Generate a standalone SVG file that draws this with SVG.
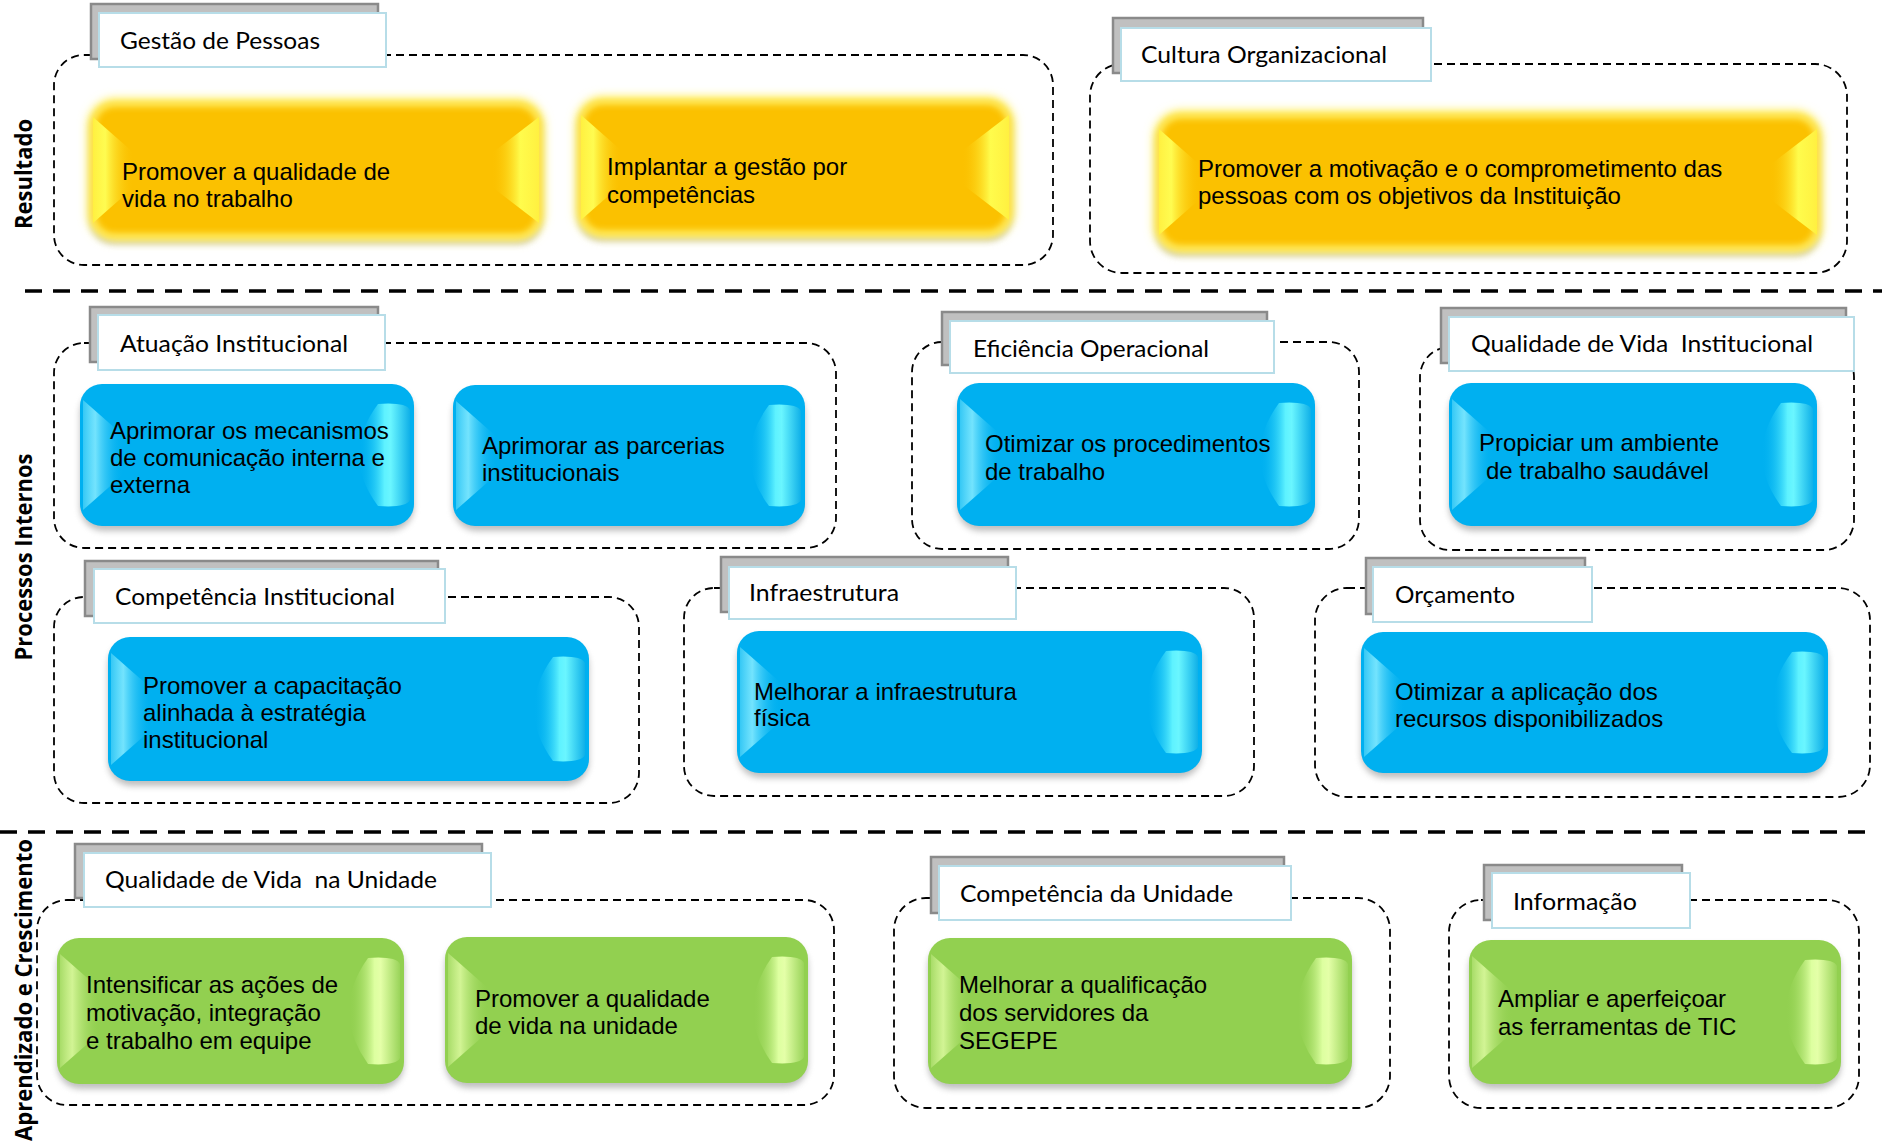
<svg xmlns="http://www.w3.org/2000/svg" width="1882" height="1143" viewBox="0 0 1882 1143">
<defs>
<style>
.dash{fill:none;stroke:#000;stroke-width:1.8;stroke-dasharray:8 5}
.sep{stroke:#000;stroke-width:3.6;stroke-dasharray:17 11}
.tabsh{fill:#C0C0C0;stroke:#8A8A8A;stroke-width:2.5}
.tab{fill:#fff;stroke:#B7DDE8;stroke-width:2}
.lbl{font-family:Lato,"Liberation Sans",sans-serif;font-size:24px;fill:#000;white-space:pre}
.txt{font-family:"Liberation Sans",Arial,sans-serif;font-size:24px;fill:#000}
.side{font-family:"Open Sans","DejaVu Sans",sans-serif;font-weight:bold;font-size:22.5px;fill:#000}
.shd{fill:#7f7f7f;opacity:.5;filter:url(#blur3)}
.yb{fill:#FBC100;filter:url(#blur2)}
.yg{fill:#FFF27A;filter:url(#blur5)}
.ye{fill:none;stroke:#FFE650;stroke-width:6;filter:url(#blur3)}
.bb{fill:#00B0F0}
.gb{fill:#92D050}
</style>
<filter id="blur2" x="-10%" y="-20%" width="120%" height="140%"><feGaussianBlur stdDeviation="2"/></filter>
<filter id="blur3" x="-10%" y="-20%" width="120%" height="140%"><feGaussianBlur stdDeviation="3"/></filter>
<filter id="blur5" x="-10%" y="-20%" width="120%" height="140%"><feGaussianBlur stdDeviation="5"/></filter>
<linearGradient id="LBb" x1="0" y1="0" x2="1" y2="0"><stop offset="0" stop-color="#35C8F5"/><stop offset="0.3" stop-color="#80E9FF" stop-opacity="0.9"/><stop offset="1" stop-color="#00B0F0" stop-opacity="0"/></linearGradient>
<linearGradient id="RBb" x1="0" y1="0" x2="1" y2="0"><stop offset="0" stop-color="#00B0F0" stop-opacity="0"/><stop offset="0.5" stop-color="#5EF2FF"/><stop offset="0.62" stop-color="#6AF6FF"/><stop offset="1" stop-color="#10B0E8"/></linearGradient>
<linearGradient id="LBg" x1="0" y1="0" x2="1" y2="0"><stop offset="0" stop-color="#A8DC68"/><stop offset="0.3" stop-color="#D9F89C" stop-opacity="0.9"/><stop offset="1" stop-color="#92D050" stop-opacity="0"/></linearGradient>
<linearGradient id="RBg" x1="0" y1="0" x2="1" y2="0"><stop offset="0" stop-color="#92D050" stop-opacity="0"/><stop offset="0.5" stop-color="#DDFFA0"/><stop offset="0.62" stop-color="#E4FFA8"/><stop offset="1" stop-color="#9AD45A"/></linearGradient>
<linearGradient id="LBy" x1="0" y1="0" x2="1" y2="0"><stop offset="0" stop-color="#FFF040"/><stop offset="0.3" stop-color="#FFFF55" stop-opacity="0.95"/><stop offset="1" stop-color="#FBC100" stop-opacity="0"/></linearGradient>
<linearGradient id="RBy" x1="0" y1="0" x2="1" y2="0"><stop offset="0" stop-color="#FBC100" stop-opacity="0"/><stop offset="0.6" stop-color="#FFFF50" stop-opacity="0.95"/><stop offset="1" stop-color="#FFF040"/></linearGradient>
</defs>
<rect x="0" y="0" width="1882" height="1143" fill="#fff"/>

<g id="separators">
<line class="sep" x1="25" y1="291" x2="1882" y2="291"/>
<line class="sep" x1="0" y1="832" x2="1866" y2="832"/>
</g>
<g id="connectors"/>

<g id="perspectives">
<text class="side" transform="translate(32,174) rotate(-90)" text-anchor="middle" textLength="110" lengthAdjust="spacingAndGlyphs">Resultado</text>
<text class="side" transform="translate(32,557) rotate(-90)" text-anchor="middle" textLength="207" lengthAdjust="spacingAndGlyphs">Processos Internos</text>
<text class="side" transform="translate(32,990) rotate(-90)" text-anchor="middle" textLength="302" lengthAdjust="spacingAndGlyphs">Aprendizado e Crescimento</text>
</g>

<!-- Gestão de Pessoas -->
<g id="grp-gestao-pessoas">
<rect class="dash" x="54" y="55" width="999" height="210" rx="30"/>
<rect class="tabsh" x="91" y="4" width="287" height="55"/>
<rect class="tab" x="99" y="13" width="287" height="54"/>
<text class="lbl" x="120" y="49" textLength="200" lengthAdjust="spacingAndGlyphs">Gestão de Pessoas</text>
<g id="obj-qualidade-vida-trabalho">
<rect class="shd" x="90" y="106" width="452" height="138" rx="24"/>
<rect class="yg" x="87" y="98" width="458" height="144" rx="28"/>
<rect class="yb" x="93" y="104" width="446" height="132" rx="22"/>
<rect class="ye" x="93" y="104" width="446" height="132" rx="22"/>
<path d="M93 117 L134 153 L134 187 L93 223 Z" fill="url(#LBy)"/>
<path d="M539 117 L492 153 L492 187 L539 223 Z" fill="url(#RBy)"/>
<text class="txt" x="122" y="180">Promover a qualidade de</text>
<text class="txt" x="122" y="207">vida no trabalho</text>
</g>
<g id="obj-gestao-competencias">
<rect class="shd" x="578" y="104" width="434" height="137" rx="24"/>
<rect class="yg" x="575" y="96" width="440" height="143" rx="28"/>
<rect class="yb" x="581" y="102" width="428" height="131" rx="22"/>
<rect class="ye" x="581" y="102" width="428" height="131" rx="22"/>
<path d="M581 115 L622 151 L622 184 L581 220 Z" fill="url(#LBy)"/>
<path d="M1009 115 L962 151 L962 184 L1009 220 Z" fill="url(#RBy)"/>
<text class="txt" x="607" y="175">Implantar a gestão por</text>
<text class="txt" x="607" y="203">competências</text>
</g>
</g>

<!-- Cultura Organizacional -->
<g id="grp-cultura">
<rect class="dash" x="1090" y="64" width="757" height="209" rx="32"/>
<rect class="tabsh" x="1113" y="18" width="310" height="55"/>
<rect class="tab" x="1121" y="28" width="310" height="53"/>
<text class="lbl" x="1141" y="63" textLength="246" lengthAdjust="spacingAndGlyphs">Cultura Organizacional</text>
<g id="obj-motivacao">
<rect class="shd" x="1156" y="118" width="664" height="138" rx="24"/>
<rect class="yg" x="1153" y="110" width="670" height="144" rx="28"/>
<rect class="yb" x="1159" y="116" width="658" height="132" rx="22"/>
<rect class="ye" x="1159" y="116" width="658" height="132" rx="22"/>
<path d="M1159 129 L1200 165 L1200 199 L1159 235 Z" fill="url(#LBy)"/>
<path d="M1817 129 L1770 165 L1770 199 L1817 235 Z" fill="url(#RBy)"/>
<text class="txt" x="1198" y="177">Promover a motivação e o comprometimento das</text>
<text class="txt" x="1198" y="204">pessoas com os objetivos da Instituição</text>
</g>
</g>

<!-- Atuação Institucional -->
<g id="grp-atuacao">
<rect class="dash" x="54" y="343" width="782" height="205" rx="30"/>
<rect class="tabsh" x="90" y="307" width="288" height="55"/>
<rect class="tab" x="98" y="315" width="287" height="55"/>
<text class="lbl" x="120" y="352" textLength="228" lengthAdjust="spacingAndGlyphs">Atuação Institucional</text>
<g id="obj-comunicacao">
<rect class="shd" x="80" y="389" width="334" height="142" rx="24"/>
<rect class="bb" x="80" y="384" width="334" height="142" rx="22"/>
<path d="M83 400 L124 436 L124 474 L83 510 Z" fill="url(#LBb)"/>
<path d="M410 410 Q406 402 378 404 Q340 455 378 506 Q406 508 410 500 Z" fill="url(#RBb)"/>
<text class="txt" x="110" y="439">Aprimorar os mecanismos</text>
<text class="txt" x="110" y="466">de comunicação interna e</text>
<text class="txt" x="110" y="493">externa</text>
</g>
<g id="obj-parcerias">
<rect class="shd" x="453" y="390" width="352" height="141" rx="24"/>
<rect class="bb" x="453" y="385" width="352" height="141" rx="22"/>
<path d="M456 401 L497 437 L497 474 L456 510 Z" fill="url(#LBb)"/>
<path d="M801 411 Q797 403 769 405 Q731 455.5 769 506 Q797 508 801 500 Z" fill="url(#RBb)"/>
<text class="txt" x="482" y="454">Aprimorar as parcerias</text>
<text class="txt" x="482" y="481">institucionais</text>
</g>
</g>

<!-- Eficiência Operacional -->
<g id="grp-eficiencia">
<rect class="dash" x="912" y="342" width="447" height="207" rx="30"/>
<rect class="tabsh" x="942" y="312" width="325" height="53"/>
<rect class="tab" x="950" y="321" width="324" height="52"/>
<text class="lbl" x="973" y="357" textLength="236" lengthAdjust="spacingAndGlyphs">Eficiência Operacional</text>
<g id="obj-procedimentos">
<rect class="shd" x="957" y="388" width="358" height="143" rx="24"/>
<rect class="bb" x="957" y="383" width="358" height="143" rx="22"/>
<path d="M960 399 L1001 435 L1001 474 L960 510 Z" fill="url(#LBb)"/>
<path d="M1311 409 Q1307 401 1279 403 Q1241 454.5 1279 506 Q1307 508 1311 500 Z" fill="url(#RBb)"/>
<text class="txt" x="985" y="452">Otimizar os procedimentos</text>
<text class="txt" x="985" y="480">de trabalho</text>
</g>
</g>

<!-- Qualidade de Vida Institucional -->
<g id="grp-qv-institucional">
<rect class="dash" x="1420" y="347" width="434" height="203" rx="30"/>
<rect class="tabsh" x="1441" y="308" width="405" height="55"/>
<rect class="tab" x="1449" y="317" width="405" height="54"/>
<text class="lbl" x="1471" y="352" textLength="342" lengthAdjust="spacingAndGlyphs">Qualidade de Vida  Institucional</text>
<g id="obj-ambiente">
<rect class="shd" x="1449" y="388" width="368" height="143" rx="24"/>
<rect class="bb" x="1449" y="383" width="368" height="143" rx="22"/>
<path d="M1452 399 L1493 435 L1493 474 L1452 510 Z" fill="url(#LBb)"/>
<path d="M1813 409 Q1809 401 1781 403 Q1743 454.5 1781 506 Q1809 508 1813 500 Z" fill="url(#RBb)"/>
<text class="txt" x="1479" y="451">Propiciar um ambiente</text>
<text class="txt" x="1486" y="479">de trabalho saudável</text>
</g>
</g>

<!-- Competência Institucional -->
<g id="grp-competencia-inst">
<rect class="dash" x="54" y="597" width="585" height="206" rx="30"/>
<rect class="tabsh" x="85" y="561" width="353" height="55"/>
<rect class="tab" x="94" y="569" width="351" height="54"/>
<text class="lbl" x="115" y="605" textLength="280" lengthAdjust="spacingAndGlyphs">Competência Institucional</text>
<g id="obj-capacitacao">
<rect class="shd" x="108" y="642" width="481" height="144" rx="24"/>
<rect class="bb" x="108" y="637" width="481" height="144" rx="22"/>
<path d="M111 653 L152 689 L152 729 L111 765 Z" fill="url(#LBb)"/>
<path d="M585 663 Q581 655 553 657 Q515 709 553 761 Q581 763 585 755 Z" fill="url(#RBb)"/>
<text class="txt" x="143" y="694">Promover a capacitação</text>
<text class="txt" x="143" y="721">alinhada à estratégia</text>
<text class="txt" x="143" y="748">institucional</text>
</g>
</g>

<!-- Infraestrutura -->
<g id="grp-infraestrutura">
<rect class="dash" x="684" y="588" width="570" height="208" rx="30"/>
<rect class="tabsh" x="721" y="557" width="287" height="55"/>
<rect class="tab" x="729" y="567" width="287" height="52"/>
<text class="lbl" x="749" y="601" textLength="150" lengthAdjust="spacingAndGlyphs">Infraestrutura</text>
<g id="obj-infra-fisica">
<rect class="shd" x="737" y="636" width="465" height="142" rx="24"/>
<rect class="bb" x="737" y="631" width="465" height="142" rx="22"/>
<path d="M740 647 L781 683 L781 721 L740 757 Z" fill="url(#LBb)"/>
<path d="M1198 657 Q1194 649 1166 651 Q1128 702 1166 753 Q1194 755 1198 747 Z" fill="url(#RBb)"/>
<text class="txt" x="754" y="700">Melhorar a infraestrutura</text>
<text class="txt" x="754" y="726">física</text>
</g>
</g>

<!-- Orçamento -->
<g id="grp-orcamento">
<rect class="dash" x="1315" y="588" width="555" height="209" rx="32"/>
<rect class="tabsh" x="1366" y="558" width="219" height="56"/>
<rect class="tab" x="1373" y="567" width="219" height="55"/>
<text class="lbl" x="1395" y="603" textLength="120" lengthAdjust="spacingAndGlyphs">Orçamento</text>
<g id="obj-recursos">
<rect class="shd" x="1361" y="637" width="467" height="141" rx="24"/>
<rect class="bb" x="1361" y="632" width="467" height="141" rx="22"/>
<path d="M1364 648 L1405 684 L1405 721 L1364 757 Z" fill="url(#LBb)"/>
<path d="M1824 658 Q1820 650 1792 652 Q1754 702.5 1792 753 Q1820 755 1824 747 Z" fill="url(#RBb)"/>
<text class="txt" x="1395" y="700">Otimizar a aplicação dos</text>
<text class="txt" x="1395" y="727">recursos disponibilizados</text>
</g>
</g>

<!-- Qualidade de Vida na Unidade -->
<g id="grp-qv-unidade">
<rect class="dash" x="37" y="900" width="797" height="205" rx="30"/>
<rect class="tabsh" x="75" y="844" width="407" height="54"/>
<rect class="tab" x="84" y="853" width="407" height="54"/>
<text class="lbl" x="105" y="888" textLength="332" lengthAdjust="spacingAndGlyphs">Qualidade de Vida  na Unidade</text>
<g id="obj-motivacao-equipe">
<rect class="shd" x="57" y="943" width="347" height="146" rx="24"/>
<rect class="gb" x="57" y="938" width="347" height="146" rx="22"/>
<path d="M60 954 L101 990 L101 1032 L60 1068 Z" fill="url(#LBg)"/>
<path d="M400 964 Q396 956 368 958 Q330 1011 368 1064 Q396 1066 400 1058 Z" fill="url(#RBg)"/>
<text class="txt" x="86" y="993">Intensificar as ações de</text>
<text class="txt" x="86" y="1021">motivação, integração</text>
<text class="txt" x="86" y="1049">e trabalho em equipe</text>
</g>
<g id="obj-qv-unidade">
<rect class="shd" x="445" y="942" width="363" height="146" rx="24"/>
<rect class="gb" x="445" y="937" width="363" height="146" rx="22"/>
<path d="M448 953 L489 989 L489 1031 L448 1067 Z" fill="url(#LBg)"/>
<path d="M804 963 Q800 955 772 957 Q734 1010 772 1063 Q800 1065 804 1057 Z" fill="url(#RBg)"/>
<text class="txt" x="475" y="1007">Promover a qualidade</text>
<text class="txt" x="475" y="1034">de vida na unidade</text>
</g>
</g>

<!-- Competência da Unidade -->
<g id="grp-competencia-unidade">
<rect class="dash" x="894" y="898" width="496" height="210" rx="32"/>
<rect class="tabsh" x="931" y="857" width="353" height="56"/>
<rect class="tab" x="939" y="866" width="352" height="54"/>
<text class="lbl" x="960" y="902" textLength="273" lengthAdjust="spacingAndGlyphs">Competência da Unidade</text>
<g id="obj-qualificacao">
<rect class="shd" x="928" y="943" width="424" height="146" rx="24"/>
<rect class="gb" x="928" y="938" width="424" height="146" rx="22"/>
<path d="M931 954 L972 990 L972 1032 L931 1068 Z" fill="url(#LBg)"/>
<path d="M1348 964 Q1344 956 1316 958 Q1278 1011 1316 1064 Q1344 1066 1348 1058 Z" fill="url(#RBg)"/>
<text class="txt" x="959" y="993">Melhorar a qualificação</text>
<text class="txt" x="959" y="1021">dos servidores da</text>
<text class="txt" x="959" y="1049">SEGEPE</text>
</g>
</g>

<!-- Informação -->
<g id="grp-informacao">
<rect class="dash" x="1449" y="900" width="410" height="208" rx="32"/>
<rect class="tabsh" x="1484" y="865" width="198" height="55"/>
<rect class="tab" x="1492" y="873" width="198" height="55"/>
<text class="lbl" x="1513" y="910" textLength="124" lengthAdjust="spacingAndGlyphs">Informação</text>
<g id="obj-tic">
<rect class="shd" x="1469" y="945" width="372" height="144" rx="24"/>
<rect class="gb" x="1469" y="940" width="372" height="144" rx="22"/>
<path d="M1472 956 L1513 992 L1513 1032 L1472 1068 Z" fill="url(#LBg)"/>
<path d="M1837 966 Q1833 958 1805 960 Q1767 1012 1805 1064 Q1833 1066 1837 1058 Z" fill="url(#RBg)"/>
<text class="txt" x="1498" y="1007">Ampliar e aperfeiçoar</text>
<text class="txt" x="1498" y="1035">as ferramentas de TIC</text>
</g>
</g>
</svg>
